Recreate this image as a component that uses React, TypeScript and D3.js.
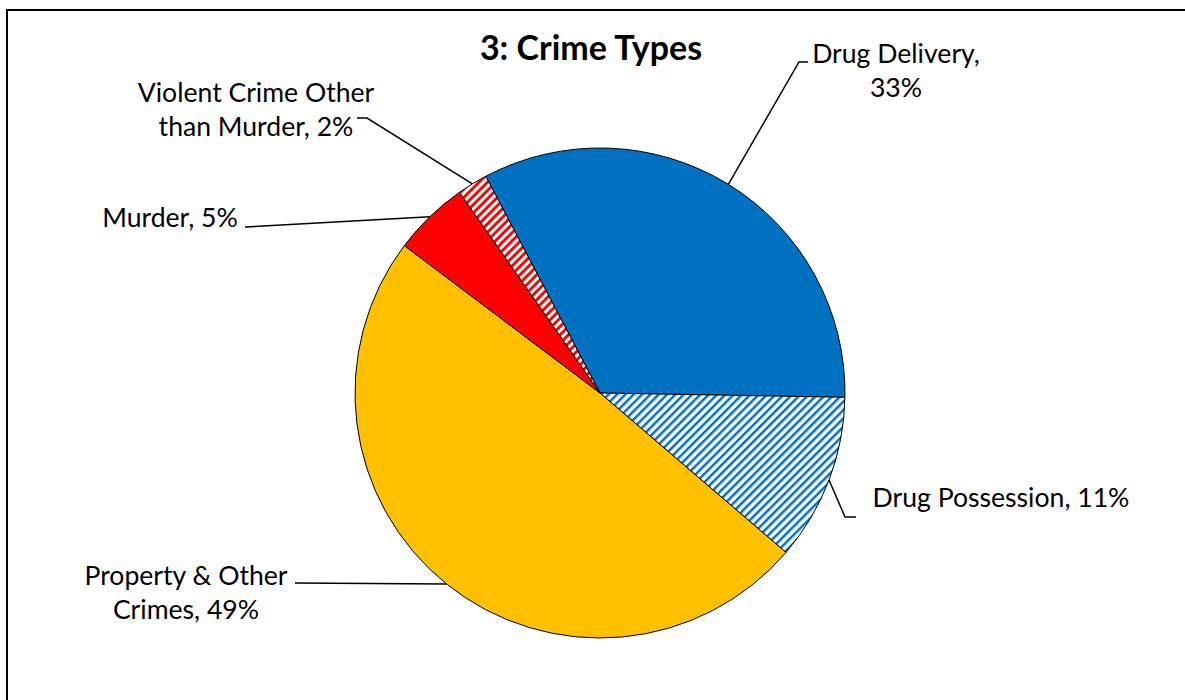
import React from "react";
import * as d3 from "d3";

const categories = [
  "Drug Delivery",
  "Drug Possession",
  "Property & Other Crimes",
  "Murder",
  "Violent Crime Other than Murder",
];
const values = [33, 11, 49, 5, 2];
const labelLines = [
  ["Drug Delivery,", "33%"],
  ["Drug Possession, 11%"],
  ["Property & Other", "Crimes, 49%"],
  ["Murder, 5%"],
  ["Violent Crime Other", "than Murder, 2%"],
];
const fills = ["#0070C0", "url(#hatchBlue)", "#FFC000", "#FF0000", "url(#hatchRed)"];
const title = "3: Crime Types";

// layout (label anchor + leader elbow points)
const labelPos = [
  { x: 896, y: 63, elbow: [[799, 62], [808, 62]] },
  { x: 1001, y: 507, elbow: [[845, 517], [856, 517]] },
  { x: 186, y: 585, elbow: [[295, 583]] },
  { x: 170, y: 227, elbow: [[245, 227]] },
  { x: 256, y: 102, elbow: [[367, 118], [357, 118]] },
];

const W = 1185;
const H = 700;
const cx = 600;
const cy = 393;
const R = 245;
const FONT = "Lato, 'Open Sans', sans-serif";

export default function App() {
  const start = (-27.8 * Math.PI) / 180;
  const pie = d3
    .pie<number>()
    .sort(null)
    .value((d) => d)
    .startAngle(start)
    .endAngle(start + 2 * Math.PI);
  const arcs = pie(values);
  const arc = d3.arc<d3.PieArcDatum<number>>().innerRadius(0).outerRadius(R);
  const edge = d3.arc<d3.PieArcDatum<number>>().innerRadius(R).outerRadius(R);
  const line = d3.line();

  return (
    <svg
      width={W}
      height={H}
      style={{ position: "absolute", left: 0, top: 0, display: "block", background: "#fff" }}
    >
      <defs>
        <pattern
          id="hatchBlue"
          patternUnits="userSpaceOnUse"
          width={5.9}
          height={5.9}
          patternTransform="rotate(45)"
        >
          <rect width={5.9} height={5.9} fill="#fff" />
          <rect width={2.5} height={5.9} fill="#0070C0" />
        </pattern>
        <pattern
          id="hatchRed"
          patternUnits="userSpaceOnUse"
          width={5.9}
          height={5.9}
          patternTransform="rotate(45)"
        >
          <rect width={5.9} height={5.9} fill="#fff" />
          <rect width={2.9} height={5.9} fill="#FF0000" />
        </pattern>
      </defs>
      <rect x={0} y={0} width={W} height={H} fill="#fff" />
      <rect x={7} y={10} width={W + 50} height={H + 50} fill="none" stroke="#000" strokeWidth={2} />
      <text
        x={591}
        y={60}
        textAnchor="middle"
        fontFamily={FONT}
        fontWeight="bold"
        fontSize={34}
        fill="#000"
      >
        {title}
      </text>
      <g transform={`translate(${cx},${cy})`}>
        {arcs.map((a, i) => (
          <path key={categories[i]} d={arc(a) || ""} fill={fills[i]} stroke="#000" strokeWidth={1} />
        ))}
      </g>
      {arcs.map((a, i) => {
        const c = edge.centroid(a);
        const pts: [number, number][] = [
          [cx + c[0], cy + c[1]],
          ...(labelPos[i].elbow as [number, number][]),
        ];
        return (
          <path
            key={"l" + i}
            d={line(pts) || ""}
            fill="none"
            stroke="#000"
            strokeWidth={1.5}
          />
        );
      })}
      {labelLines.map((lines, i) => (
        <text
          key={"t" + i}
          x={labelPos[i].x}
          y={labelPos[i].y}
          textAnchor="middle"
          fontFamily={FONT}
          fontSize={26.6}
          fill="#000"
        >
          {lines.map((s, j) => (
            <tspan key={j} x={labelPos[i].x} dy={j === 0 ? 0 : 34}>
              {s}
            </tspan>
          ))}
        </text>
      ))}
    </svg>
  );
}
